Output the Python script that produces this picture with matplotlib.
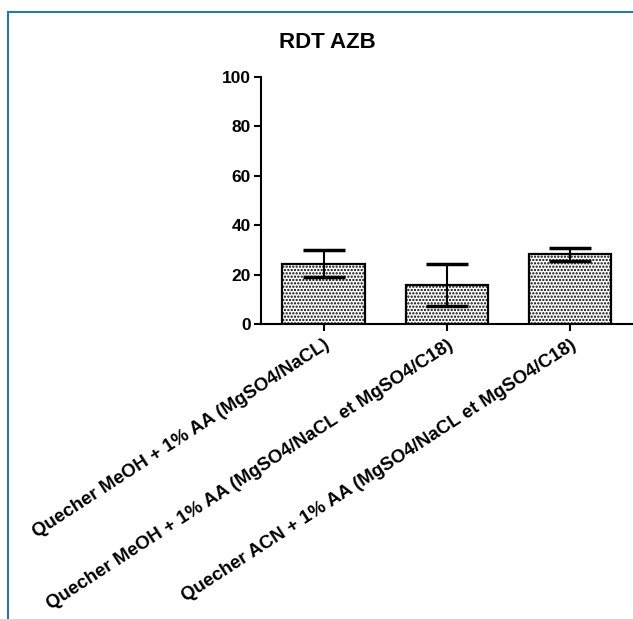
import matplotlib
matplotlib.use('Agg')
import matplotlib.pyplot as plt
from matplotlib.lines import Line2D

plt.rcParams['font.family'] = ['Liberation Sans', 'DejaVu Sans']
plt.rcParams['hatch.linewidth'] = 1.1

# data
categories = ['Quecher MeOH + 1% AA (MgSO4/NaCL)',
              'Quecher MeOH + 1% AA (MgSO4/NaCL et MgSO4/C18)',
              'Quecher ACN + 1% AA (MgSO4/NaCL et MgSO4/C18)']
means = [24.4, 15.6, 28.2]
errors = [5.5, 8.5, 2.7]
yticks = [0, 20, 40, 60, 80, 100]

fig = plt.figure(figsize=(6.33, 6.19), dpi=100)
ax = fig.add_axes([0.412, 0.4766, 0.588, 0.399])

x = range(len(categories))
ax.bar(x, means, width=0.67, color='white', edgecolor='black', linewidth=1.6,
       hatch='.....', zorder=2)
ax.errorbar(x, means, yerr=errors, fmt='none', ecolor='black', elinewidth=1.5,
            capsize=15, capthick=2.5, zorder=3)

ax.set_xlim(-0.51, 2.51)
ax.set_ylim(0, 100)
ax.set_yticks(yticks)
ax.set_xticks(list(x))
ax.set_xticklabels(categories, rotation=33, ha='right', va='top',
                   rotation_mode='anchor', fontsize=13.5, fontweight='bold')
for lab in ax.get_yticklabels():
    lab.set_fontweight('bold')
    lab.set_fontsize(12.5)

for side in ['top', 'right']:
    ax.spines[side].set_visible(False)
for side in ['left', 'bottom']:
    ax.spines[side].set_linewidth(1.5)
ax.tick_params(axis='both', direction='out', length=5, width=1.5, pad=2)
ax.tick_params(axis='x', pad=4)

fig.text(0.517, 0.932, 'RDT AZB', ha='center', va='center', fontsize=16,
         fontweight='bold')

# blue frame (top and left edges)
fig.add_artist(Line2D([0.012, 1.0], [0.981, 0.981], color='#2f76a3', lw=1.5))
fig.add_artist(Line2D([0.012, 0.012], [0.0, 0.981], color='#2f76a3', lw=1.5))

fig.savefig('out.png', dpi=100)
